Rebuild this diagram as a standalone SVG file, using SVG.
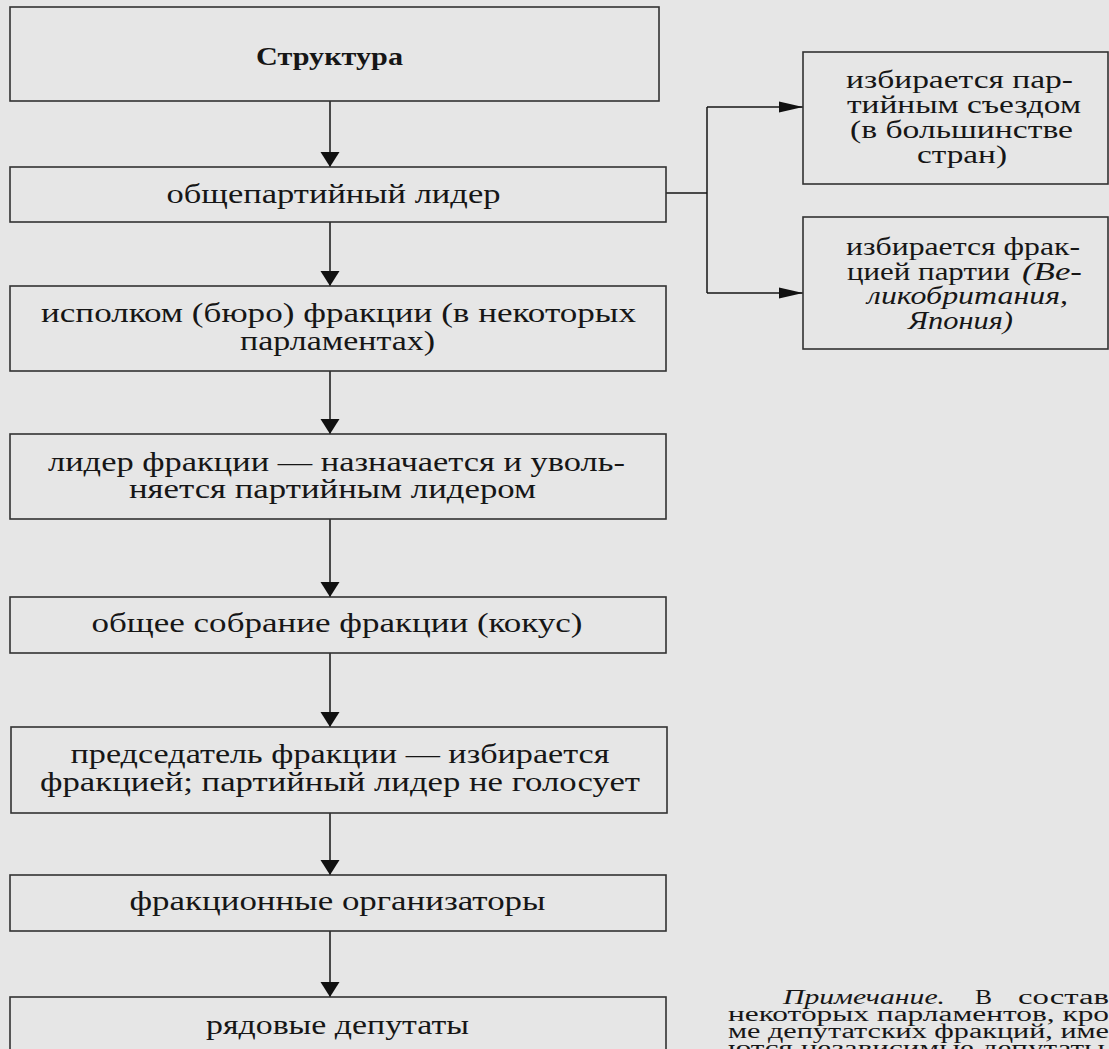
<svg xmlns="http://www.w3.org/2000/svg" width="1109" height="1049" viewBox="0 0 1109 1049">
<defs>
<style>
.box{fill:none;stroke:#333;stroke-width:1.6}
.t{font-family:"Liberation Serif","Times New Roman",serif;fill:#161616}
.m{font-size:27px}
.r{font-size:25px}
.n{font-size:20px}
.b{font-weight:bold;font-size:26px}
.i{font-style:italic}
.c{fill:none;stroke:#161616;stroke-width:1.5}
</style>
<marker id="ad" markerUnits="userSpaceOnUse" viewBox="0 -10 16 20" refX="15" refY="0" markerWidth="16" markerHeight="20" orient="auto" overflow="visible">
<path d="M0,-9.5 L15,0 L0,9.5 Z" fill="#111"/>
</marker>
<marker id="ar" markerUnits="userSpaceOnUse" viewBox="0 -6 25 12" refX="24" refY="0" markerWidth="25" markerHeight="12" orient="auto" overflow="visible">
<path d="M0,-5.5 L24,0 L0,5.5 Z" fill="#111"/>
</marker>
</defs>
<rect x="0" y="0" width="1109" height="1049" fill="#e6e6e6"/>

<g id="connectors">
<line class="c" x1="330" y1="101" x2="330" y2="167" marker-end="url(#ad)"/>
<line class="c" x1="330" y1="222" x2="330" y2="286" marker-end="url(#ad)"/>
<line class="c" x1="330" y1="371" x2="330" y2="434" marker-end="url(#ad)"/>
<line class="c" x1="330" y1="519" x2="330" y2="597" marker-end="url(#ad)"/>
<line class="c" x1="330" y1="653" x2="330" y2="727" marker-end="url(#ad)"/>
<line class="c" x1="330" y1="813" x2="330" y2="875" marker-end="url(#ad)"/>
<line class="c" x1="330" y1="931" x2="330" y2="997" marker-end="url(#ad)"/>
<path class="c" d="M666,193 H707 M707,107 V293"/>
<line class="c" x1="707" y1="107" x2="803" y2="107" marker-end="url(#ar)"/>
<line class="c" x1="707" y1="293" x2="803" y2="293" marker-end="url(#ar)"/>
</g>

<g id="node-structure">
<rect class="box" x="10" y="7" width="649" height="94"/>
<text class="t b" x="256" y="65" textLength="147" lengthAdjust="spacingAndGlyphs">Структура</text>
</g>
<g id="node-leader">
<rect class="box" x="10" y="167" width="656" height="55"/>
<text class="t m" x="166.5" y="203" textLength="334" lengthAdjust="spacingAndGlyphs">общепартийный лидер</text>
</g>
<g id="node-bureau">
<rect class="box" x="10" y="286" width="656" height="85"/>
<text class="t m" x="41" y="322" textLength="595" lengthAdjust="spacingAndGlyphs">исполком (бюро) фракции (в некоторых</text>
<text class="t m" x="240" y="350" textLength="195" lengthAdjust="spacingAndGlyphs">парламентах)</text>
</g>
<g id="node-faction-leader">
<rect class="box" x="10" y="434" width="656" height="85"/>
<text class="t m" x="48" y="471" textLength="577" lengthAdjust="spacingAndGlyphs">лидер фракции — назначается и уволь-</text>
<text class="t m" x="129" y="498" textLength="407" lengthAdjust="spacingAndGlyphs">няется партийным лидером</text>
</g>
<g id="node-caucus">
<rect class="box" x="10" y="597" width="656" height="56"/>
<text class="t m" x="91.5" y="632" textLength="491" lengthAdjust="spacingAndGlyphs">общее собрание фракции (кокус)</text>
</g>
<g id="node-chairman">
<rect class="box" x="11" y="727" width="656" height="86"/>
<text class="t m" x="70.5" y="763" textLength="539" lengthAdjust="spacingAndGlyphs">председатель фракции — избирается</text>
<text class="t m" x="40" y="791" textLength="600" lengthAdjust="spacingAndGlyphs">фракцией; партийный лидер не голосует</text>
</g>
<g id="node-whips">
<rect class="box" x="10" y="875" width="656" height="56"/>
<text class="t m" x="129.5" y="910" textLength="416" lengthAdjust="spacingAndGlyphs">фракционные организаторы</text>
</g>
<g id="node-deputies">
<rect class="box" x="10" y="997" width="656" height="70"/>
<text class="t m" x="206" y="1034" textLength="263" lengthAdjust="spacingAndGlyphs">рядовые депутаты</text>
</g>

<g id="node-congress">
<rect class="box" x="803" y="52" width="305" height="132"/>
<text class="t r" x="846" y="88" textLength="227" lengthAdjust="spacingAndGlyphs">избирается пар-</text>
<text class="t r" x="847" y="113" textLength="234" lengthAdjust="spacingAndGlyphs">тийным съездом</text>
<text class="t r" x="850" y="138" textLength="223" lengthAdjust="spacingAndGlyphs">(в большинстве</text>
<text class="t r" x="917" y="163" textLength="90" lengthAdjust="spacingAndGlyphs">стран)</text>
</g>
<g id="node-faction-elected">
<rect class="box" x="803" y="217" width="305" height="132"/>
<text class="t r" x="846" y="255" textLength="234" lengthAdjust="spacingAndGlyphs">избирается фрак-</text>
<text class="t r" x="847" y="280" textLength="163" lengthAdjust="spacingAndGlyphs">цией партии</text>
<text class="t r i" x="1022" y="280" textLength="60" lengthAdjust="spacingAndGlyphs">(Ве-</text>
<text class="t r i" x="867" y="304" textLength="201" lengthAdjust="spacingAndGlyphs">ликобритания,</text>
<text class="t r i" x="908" y="329" textLength="105" lengthAdjust="spacingAndGlyphs">Япония)</text>
</g>

<g id="note">
<text class="t n i" x="783" y="1004" textLength="162" lengthAdjust="spacingAndGlyphs">Примечание.</text>
<text class="t n" x="975" y="1004" textLength="17" lengthAdjust="spacingAndGlyphs">В</text>
<text class="t n" x="1018" y="1004" textLength="91" lengthAdjust="spacingAndGlyphs">состав</text>
<text class="t n" x="728" y="1021" textLength="381" lengthAdjust="spacingAndGlyphs">некоторых парламентов, кро</text>
<text class="t n" x="728" y="1038" textLength="381" lengthAdjust="spacingAndGlyphs">ме депутатских фракций, име</text>
<text class="t n" x="728" y="1055" textLength="377" lengthAdjust="spacingAndGlyphs">ются независимые депутаты</text>
</g>
</svg>
